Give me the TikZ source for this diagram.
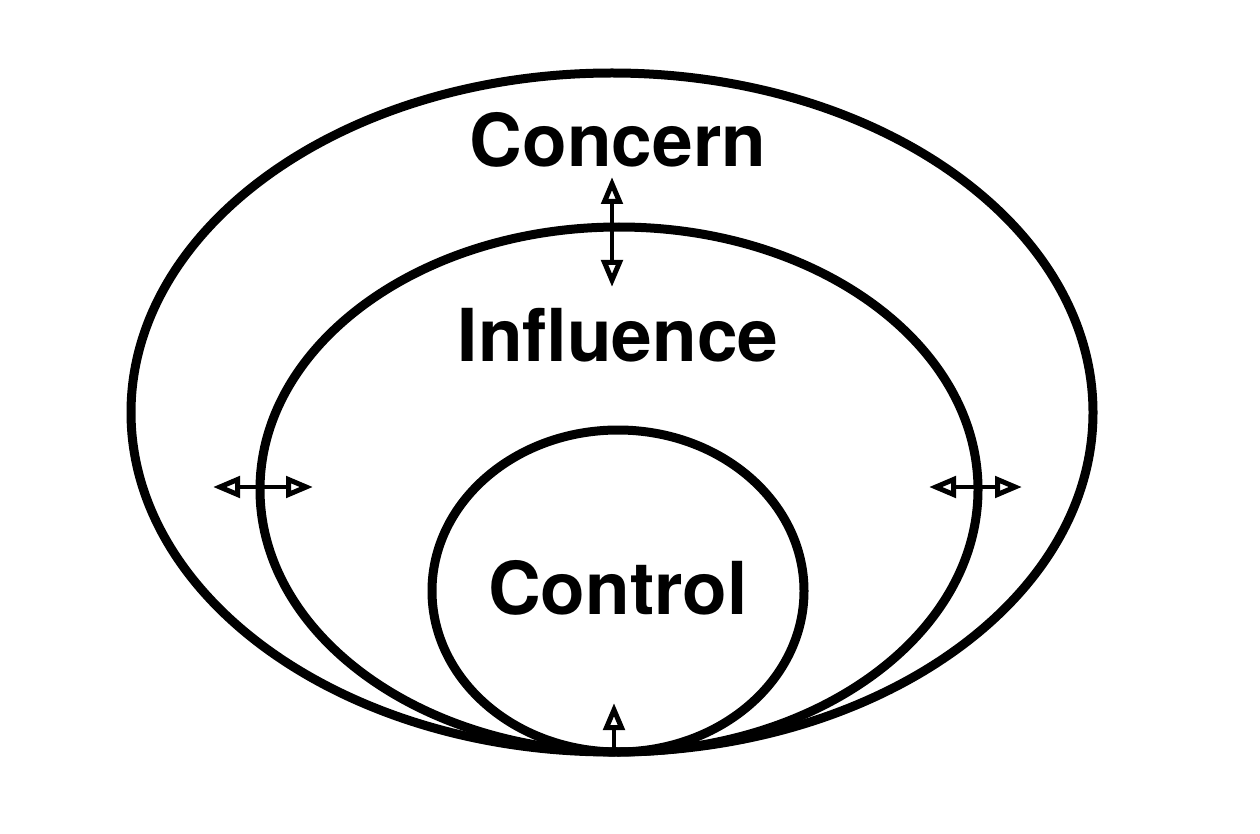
\documentclass[tikz,border=0pt]{standalone}
\usepackage{fontspec}
\setmainfont{TeX Gyre Heros}
\usetikzlibrary{shapes.geometric,arrows.meta}
\begin{document}
\begin{tikzpicture}[x=1pt,y=-1pt,
  ring/.style={draw=black,line width=9pt,ellipse,inner sep=0pt},
  lbl/.style={font=\fontsize{73}{80}\selectfont\bfseries,inner sep=0pt},
  dbl/.style={line width=4pt,{Triangle[open,length=27pt,width=21pt,line width=5pt]}-{Triangle[open,length=27pt,width=21pt,line width=5pt]}},
  sgl/.style={line width=4pt,-{Triangle[open,length=27pt,width=21pt,line width=5pt]}}]
\useasboundingbox (0,0) rectangle (1260,834);
\node[ring,minimum width=962pt,minimum height=679pt] (concern) at (612,412.5) {};
\node[ring,minimum width=718pt,minimum height=525pt] (influence) at (619,489.5) {};
\node[ring,minimum width=372pt,minimum height=322pt] (control) at (618,591) {};
\node[lbl] (tconcern) at (618,140) {Concern};
\node[lbl] (tinfluence) at (618,335) {Influence};
\node[lbl] (tcontrol) at (618,588) {Control};
\coordinate (a1) at (612,177);
\coordinate (a2) at (612,287);
\coordinate (b1) at (213,487);
\coordinate (b2) at (313,487);
\coordinate (c1) at (929,487);
\coordinate (c2) at (1022,487);
\coordinate (d1) at (614,752);
\coordinate (d2) at (614,703);
\draw[dbl] (a1) -- (a2);
\draw[dbl] (b1) -- (b2);
\draw[dbl] (c1) -- (c2);
\draw[sgl] (d1) -- (d2);
\end{tikzpicture}
\end{document}
